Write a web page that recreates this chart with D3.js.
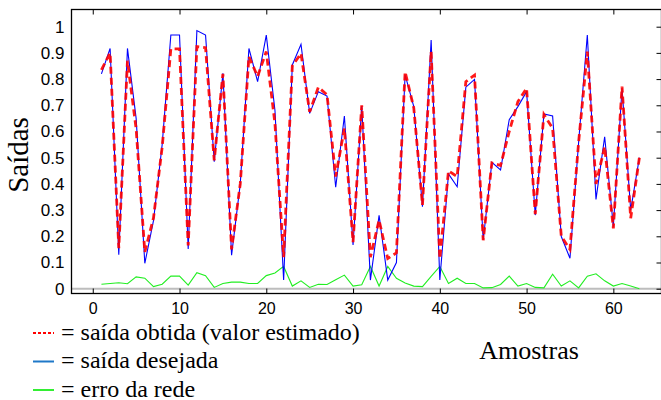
<!DOCTYPE html>
<html>
<head>
<meta charset="utf-8">
<script src="https://cdn.jsdelivr.net/npm/d3@7"></script>
<style>
  body { margin: 0; background: #fff; }
  svg { display: block; }
  .tick text { font-family: "Liberation Sans", Arial, sans-serif; fill: #000; }
  .serif { font-family: "Liberation Serif", "Times New Roman", serif; fill: #000; }
</style>
</head>
<body>
<svg id="chart" width="661" height="400"></svg>
<script>
// amostras 1..63
const desejada = [0.82,0.917,0.13,0.917,0.65,0.097,0.26,0.55,0.968,0.968,
  0.152,0.985,0.968,0.485,0.822,0.128,0.40,0.917,0.79,0.968,
  0.68,0.033,0.854,0.933,0.669,0.752,0.735,0.387,0.659,0.167,
  0.697,0.033,0.28,0.033,0.10,0.816,0.695,0.313,0.949,0.033,
  0.438,0.389,0.769,0.799,0.186,0.482,0.453,0.645,0.695,0.752,
  0.281,0.667,0.659,0.199,0.116,0.56,0.968,0.341,0.58,0.237,
  0.765,0.30,0.50];
const obtida = [0.835,0.90,0.155,0.87,0.61,0.14,0.27,0.54,0.915,0.915,
  0.165,0.924,0.92,0.49,0.82,0.15,0.40,0.886,0.81,0.905,
  0.63,0.12,0.85,0.898,0.675,0.769,0.74,0.428,0.612,0.178,
  0.70,0.12,0.262,0.115,0.137,0.828,0.69,0.32,0.905,0.115,
  0.45,0.428,0.79,0.815,0.185,0.48,0.47,0.60,0.714,0.765,
  0.285,0.665,0.612,0.20,0.15,0.56,0.905,0.40,0.542,0.23,
  0.771,0.269,0.50];
const erro = [0.017,0.02,0.023,0.019,0.045,0.04,0.008,0.017,0.048,0.048,
  0.014,0.061,0.05,0.005,0.02,0.025,0.025,0.02,0.02,0.05,
  0.06,0.085,0.01,0.03,0.005,0.017,0.016,0.034,0.052,0.01,
  0.015,0.085,0.01,0.085,0.04,0.022,0.01,0.008,0.047,0.085,
  0.02,0.04,0.02,0.02,0.003,0.004,0.016,0.048,0.01,0.02,
  0.005,0.003,0.055,0.01,0.03,0.003,0.048,0.057,0.03,0.01,
  0.02,0.01,0];
const xTicks = [0,10,20,30,40,50,60];
const yTicks = [0,0.1,0.2,0.3,0.4,0.5,0.6,0.7,0.8,0.9,1];
const legendItems = [
  {label:"= saída obtida (valor estimado)", color:"#ff0000", dash:"3,2"},
  {label:"= saída desejada", color:"#1f78c8", dash:null},
  {label:"= erro da rede", color:"#33ee33", dash:null}
];

const svg = d3.select("#chart");
const pLeft = 71.5, pRight = 661.5, pTop = 9.5, pBottom = 293.5;

const x = d3.scaleLinear().domain([-2.45,65.55]).range([pLeft,pRight]);
const y = d3.scaleLinear().domain([-0.0183,1.0656]).range([pBottom,pTop]);

// zero line
svg.append("line")
  .attr("x1",pLeft).attr("x2",pRight)
  .attr("y1",y(0)).attr("y2",y(0))
  .attr("stroke","#bdbdbd").attr("stroke-width",2);

const line = d3.line().x((d,i)=>x(i+1)).y(d=>y(d));

svg.append("path").datum(erro)
  .attr("d",line).attr("fill","none")
  .attr("stroke","#22ee22").attr("stroke-width",1.1);

svg.append("path").datum(desejada)
  .attr("d",line).attr("fill","none")
  .attr("stroke","#0000ff").attr("stroke-width",1.1);

svg.append("path").datum(obtida)
  .attr("d",line).attr("fill","none")
  .attr("stroke","#ff0000").attr("stroke-width",2.8)
  .attr("stroke-opacity",0.9)
  .attr("stroke-dasharray","7,4");

// axes
const xAxis = svg.append("g")
  .attr("transform","translate(0,"+pBottom+")")
  .call(d3.axisBottom(x).tickValues(xTicks).tickSize(-5).tickPadding(9));
xAxis.selectAll("text").style("font-size","16px");

svg.append("g")
  .attr("transform","translate(0,"+pTop+")")
  .call(d3.axisTop(x).tickValues(xTicks).tickSize(-5).tickFormat(""));

const yAxis = svg.append("g")
  .attr("transform","translate("+pLeft+",0)")
  .call(d3.axisLeft(y).tickValues(yTicks).tickSize(0).tickPadding(7).tickFormat(d3.format("~g")));
yAxis.selectAll("text").style("font-size","17px");

svg.append("g")
  .attr("transform","translate("+pRight+",0)")
  .call(d3.axisRight(y).tickValues(yTicks).tickSize(-5).tickFormat(""));

svg.selectAll(".domain").remove();
svg.selectAll(".tick line").attr("stroke","#000").attr("stroke-width",1);

// frame
svg.append("rect")
  .attr("x",pLeft).attr("y",pTop)
  .attr("width",pRight-pLeft).attr("height",pBottom-pTop)
  .attr("fill","none").attr("stroke","#000").attr("stroke-width",1.3);

// axis titles
svg.append("text").attr("class","serif")
  .attr("transform","translate(28,155) rotate(-90)")
  .attr("text-anchor","middle")
  .style("font-size","29px")
  .text("Saídas");

svg.append("text").attr("class","serif")
  .attr("x",529).attr("y",359)
  .attr("text-anchor","middle")
  .style("font-size","26px")
  .text("Amostras");

// legend
const leg = svg.append("g");
legendItems.forEach((d,i)=>{
  const yy = 333 + i*28.5;
  leg.append("line")
    .attr("x1",33).attr("x2",54)
    .attr("y1",yy).attr("y2",yy)
    .attr("stroke",d.color).attr("stroke-width",2)
    .attr("stroke-dasharray",d.dash);
  leg.append("text").attr("class","serif")
    .attr("x",61).attr("y",yy+6.5)
    .style("font-size","24px")
    .text(d.label);
});
</script>
</body>
</html>
